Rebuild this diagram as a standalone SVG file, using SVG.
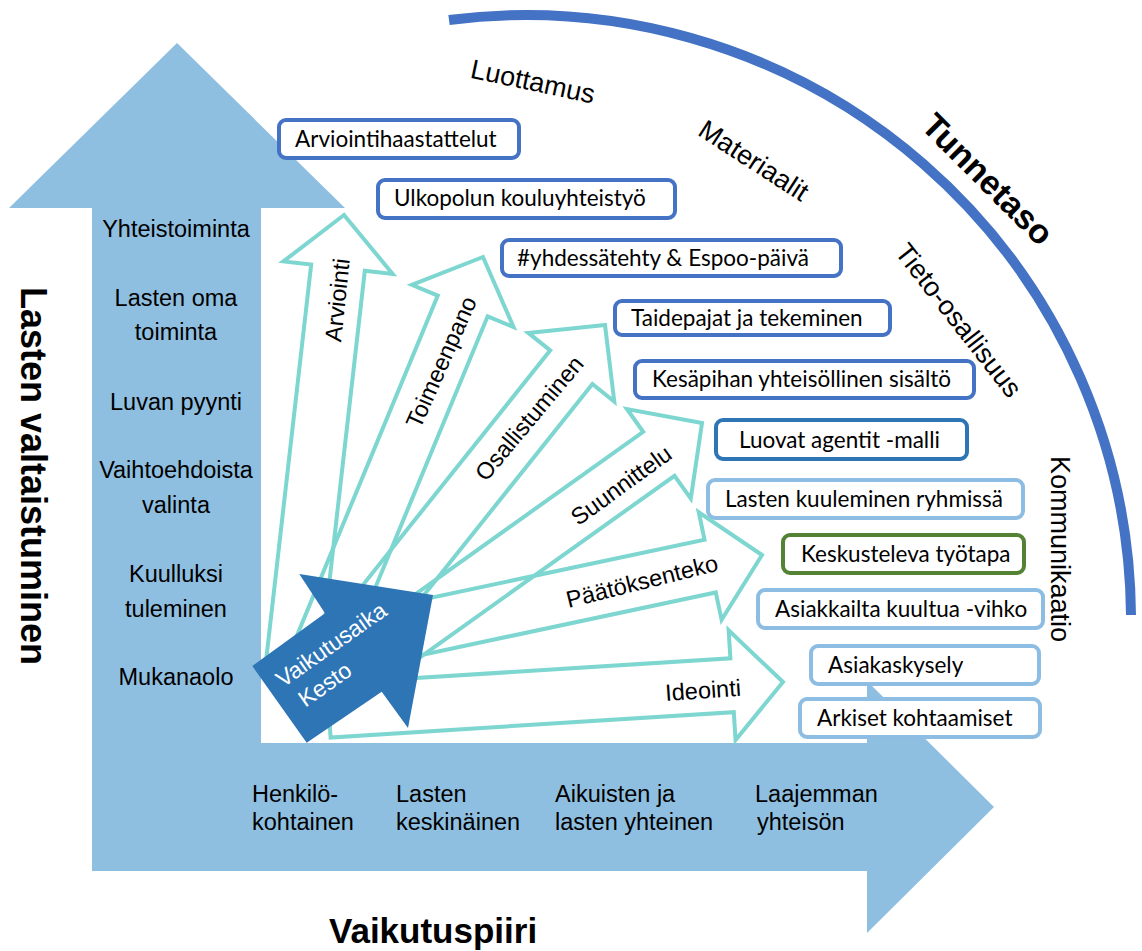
<svg xmlns="http://www.w3.org/2000/svg" width="1142" height="951" viewBox="0 0 1142 951">
<style>
.lbl{font-family:"Liberation Sans",Arial,sans-serif;font-size:23.5px;fill:#000}
.arc{font-family:"Liberation Sans",Arial,sans-serif;font-size:27px;fill:#000}
.bold{font-family:"Liberation Sans",Arial,sans-serif;font-weight:bold;fill:#000}
.bx{fill:#fff;stroke-width:4}
.b1{stroke:#4472C4}
.b2{stroke:#2E75B6}
.b3{stroke:#8DBDE2}
.b4{stroke:#548235}
.bt{font-family:Lato,"Open Sans",sans-serif;font-size:22.5px;fill:#000}
.fan{fill:none;stroke:#7DD6D0;stroke-width:4;stroke-linejoin:miter}
.wt{font-family:"Liberation Sans",Arial,sans-serif;font-size:23px;fill:#fff}
</style>
<rect width="1142" height="951" fill="#fff"/>
<g id="axes">
<path d="M177,43 L345,208 L261,208 L261,743 L867,743 L867,681 L994,807 L867,933 L867,871 L92,871 L92,208 L9,208 Z" fill="#8FBFE0"/>
</g>
<g id="tunnetaso-arc">
<path d="M449,20 A605,605 0 0 1 1131,615" fill="none" stroke="#4472C4" stroke-width="10"/>
</g>
<g id="boxes">
<g id="box1"><rect class="bx b1" x="279" y="120" width="240" height="38" rx="7"/><text class="bt" x="295" y="147">Arviointihaastattelut</text></g>
<g id="box2"><rect class="bx b1" x="378" y="180" width="297" height="38" rx="7"/><text class="bt" x="394" y="206">Ulkopolun kouluyhteistyö</text></g>
<g id="box3"><rect class="bx b1" x="502" y="240" width="339" height="36" rx="7"/><text class="bt" x="517" y="266">#yhdessätehty &amp; Espoo-päivä</text></g>
<g id="box4"><rect class="bx b1" x="615" y="301" width="275" height="34" rx="7"/><text class="bt" x="631" y="326">Taidepajat ja tekeminen</text></g>
<g id="box5"><rect class="bx b1" x="635" y="361" width="339" height="37" rx="7"/><text class="bt" x="652" y="387">Kesäpihan yhteisöllinen sisältö</text></g>
<g id="box6"><rect class="bx b2" x="716" y="420" width="251" height="39" rx="7"/><text class="bt" x="739" y="448">Luovat agentit -malli</text></g>
<g id="box7"><rect class="bx b3" x="708" y="480" width="315" height="38" rx="7"/><text class="bt" x="725" y="507">Lasten kuuleminen ryhmissä</text></g>
<g id="box8"><rect class="bx b4" x="783" y="535" width="241" height="38" rx="7"/><text class="bt" x="801" y="562">Keskusteleva työtapa</text></g>
<g id="box9"><rect class="bx b3" x="758" y="590" width="285" height="38" rx="7"/><text class="bt" x="775" y="617">Asiakkailta kuultua -vihko</text></g>
<g id="box10"><rect class="bx b3" x="811" y="646" width="228" height="38" rx="7"/><text class="bt" x="828" y="673">Asiakaskysely</text></g>
<g id="box11"><rect class="bx b3" x="800" y="699" width="240" height="38" rx="7"/><text class="bt" x="817" y="726">Arkiset kohtaamiset</text></g>
</g>
<g id="connectors">
<g id="arr-arviointi"><polygon class="fan" transform="translate(344,215) rotate(-83.5)" points="0,0 -53,-55 -53,-27 -466,-27 -466,27 -53,27 -53,55"/></g>
<g id="arr-toimeenpano"><polygon class="fan" transform="translate(483,257) rotate(-67.5)" points="0,0 -53,-55 -53,-27 -436,-27 -436,27 -53,27 -53,55"/></g>
<g id="arr-osallistuminen"><polygon class="fan" transform="translate(605,325) rotate(-51.4)" points="0,0 -54,-55 -54,-27 -403,-27 -403,27 -54,27 -54,55"/></g>
<g id="arr-suunnittelu"><polygon class="fan" transform="translate(702,423) rotate(-35.5)" points="0,0 -53,-55 -53,-27 -401,-27 -401,27 -53,27 -53,55"/></g>
<g id="arr-paatoksenteko"><polygon class="fan" transform="translate(762,555) rotate(-12)" points="0,0 -53,-55 -53,-27 -370,-27 -370,27 -53,27 -53,55"/></g>
<g id="arr-ideointi"><polygon class="fan" transform="translate(783,682) rotate(-3.6)" points="0,0 -51,-55 -51,-27 -455,-27 -455,27 -51,27 -51,55"/></g>
</g>
<g id="fan-labels">
<text class="lbl" text-anchor="middle" transform="translate(337,300) rotate(-84)" y="8.4">Arviointi</text>
<text class="lbl" text-anchor="middle" transform="translate(441,362) rotate(-66)" y="8.4">Toimeenpano</text>
<text class="lbl" text-anchor="middle" transform="translate(529,418) rotate(-50)" y="8.4">Osallistuminen</text>
<text class="lbl" text-anchor="middle" transform="translate(621,485) rotate(-36)" y="8.4">Suunnittelu</text>
<text class="lbl" text-anchor="middle" transform="translate(642,581) rotate(-14)" y="8.4">Päätöksenteko</text>
<text class="lbl" text-anchor="middle" transform="translate(703,690) rotate(-4)" y="8.4">Ideointi</text>
</g>
<g id="vaikutusaika">
<polygon points="433,595 408,728 381.7,691.7 306.7,742.7 252.3,666 325,613.3 299.3,574" fill="#2E75B6"/>
<g transform="translate(283,688) rotate(-35)">
<text class="wt" x="0" y="0">Vaikutusaika</text>
<text class="wt" x="7" y="29">Kesto</text>
</g>
</g>
<g id="level-labels">
<text class="lbl" text-anchor="middle" x="176" y="237">Yhteistoiminta</text>
<text class="lbl" text-anchor="middle" x="176" y="306">Lasten oma</text>
<text class="lbl" text-anchor="middle" x="176" y="340">toiminta</text>
<text class="lbl" text-anchor="middle" x="176" y="410">Luvan pyynti</text>
<text class="lbl" text-anchor="middle" x="176" y="478">Vaihtoehdoista</text>
<text class="lbl" text-anchor="middle" x="176" y="513">valinta</text>
<text class="lbl" text-anchor="middle" x="176" y="582">Kuulluksi</text>
<text class="lbl" text-anchor="middle" x="176" y="617">tuleminen</text>
<text class="lbl" text-anchor="middle" x="176" y="685">Mukanaolo</text>
</g>
<g id="circle-labels">
<text class="lbl" x="252" y="802">Henkilö-</text>
<text class="lbl" x="252" y="830">kohtainen</text>
<text class="lbl" x="396" y="802">Lasten</text>
<text class="lbl" x="396" y="830">keskinäinen</text>
<text class="lbl" x="555" y="802">Aikuisten ja</text>
<text class="lbl" x="555" y="830">lasten yhteinen</text>
<text class="lbl" x="755" y="802">Laajemman</text>
<text class="lbl" x="757" y="830">yhteisön</text>
</g>
<g id="arc-labels">
<text class="arc" text-anchor="middle" transform="translate(533,81) rotate(12)" y="9.7">Luottamus</text>
<text class="arc" text-anchor="middle" transform="translate(754,160) rotate(33)" y="9.7">Materiaalit</text>
<text class="arc" text-anchor="middle" transform="translate(959,320) rotate(52)" y="9.7">Tieto-osallisuus</text>
<text class="arc" text-anchor="middle" transform="translate(1051,549) rotate(90)" y="0">Kommunikaatio</text>
</g>
<g id="titles">
<text class="bold" font-size="34" text-anchor="middle" transform="translate(988,179) rotate(45)" y="12">Tunnetaso</text>
<text class="bold" font-size="36" text-anchor="middle" transform="translate(21,476) rotate(90)" y="0">Lasten valtaistuminen</text>
<text class="bold" font-size="35" x="329" y="943">Vaikutuspiiri</text>
</g>
</svg>
